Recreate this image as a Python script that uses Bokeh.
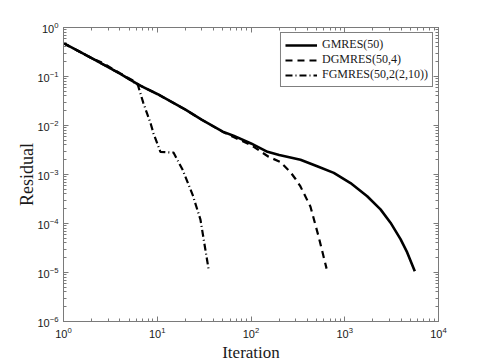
from bokeh.plotting import figure
from bokeh.models import (LogAxis, FixedTicker, CustomJSTickFormatter, Range1d,
                          Legend, LegendItem)
from bokeh.embed import file_html
from bokeh.resources import INLINE

# ---- data ----
gmres_x = [1, 2, 4, 6.5, 10, 20, 30, 50, 65, 100, 150, 200, 337, 508, 764, 1152,
           1735, 2406, 3076, 3935, 4634, 5588]
gmres_y = [0.48, 0.236, 0.115, 0.066, 0.044, 0.021, 0.013, 0.0075, 0.0062, 0.0043, 0.0029,
           0.0025, 0.0020, 0.00147, 0.00108, 6.7e-4,
           3.6e-4, 1.94e-4, 1.04e-4, 4.8e-5, 2.57e-5, 1.06e-5]

dgmres_x = [1, 2, 2.6, 4, 5.5, 6.5, 10, 20, 30, 50, 65, 100, 154, 206, 265, 300, 337, 431, 525, 640]
dgmres_y = [0.48, 0.236, 0.19, 0.117, 0.083, 0.066, 0.044, 0.021, 0.013, 0.0074, 0.0058,
            0.0040, 0.0023, 0.0018, 0.0011, 8e-4, 5.7e-4, 2.2e-4, 5.5e-5, 1.2e-5]

fgmres_x = [1, 2, 4, 6.2, 7.1, 8.5, 9.1, 10.8, 14.9, 18.6, 23.8, 28.9, 35.2]
fgmres_y = [0.48, 0.236, 0.115, 0.068, 0.029, 0.011, 0.007, 0.0029, 0.0028, 0.00126,
            0.00039, 0.00012, 1.2e-5]

series_names = ["GMRES(50)", "DGMRES(50,4)", "FGMRES(50,2(2,10))"]

x_ticks = [1, 10, 100, 1000, 10000]
y_ticks = [1e-6, 1e-5, 1e-4, 1e-3, 1e-2, 1e-1, 1]

x_label = "Iteration"
y_label = "Residual"


def minors(ticks):
    out = []
    for t in ticks[:-1]:
        for k in range(2, 10):
            out.append(t * k)
    return out


AX_COL = "#7a7a7a"
TICK_FONT = "Liberation Sans"
SERIF = "Liberation Serif"

p = figure(width=484, height=364, x_axis_type="log", y_axis_type="log",
           x_range=Range1d(1, 10000), y_range=Range1d(1e-6, 1),
           output_backend="svg", toolbar_location=None,
           min_border_left=63, min_border_right=46, min_border_top=27, min_border_bottom=41)

p.xgrid.visible = False
p.ygrid.visible = False
p.outline_line_color = AX_COL
p.background_fill_color = "white"
p.border_fill_color = "white"

xt = FixedTicker(ticks=x_ticks, minor_ticks=minors(x_ticks))
yt = FixedTicker(ticks=y_ticks, minor_ticks=minors(y_ticks))


def style(ax, labels=True):
    ax.axis_line_color = AX_COL
    ax.major_tick_line_color = AX_COL
    ax.minor_tick_line_color = AX_COL
    ax.major_tick_in = 5
    ax.major_tick_out = 0
    ax.minor_tick_in = 3
    ax.minor_tick_out = 0
    ax.major_label_text_font = TICK_FONT
    ax.major_label_text_font_size = "11px"
    ax.major_label_text_color = "#1a1a1a"
    ax.major_label_standoff = 5
    if not labels:
        ax.formatter = CustomJSTickFormatter(code="return ''")
        ax.major_label_standoff = 0


xa = p.xaxis[0]
xa.ticker = xt
style(xa)
xa.axis_label = x_label
xa.axis_label_text_font = SERIF
xa.axis_label_text_font_style = "normal"
xa.axis_label_text_font_size = "17px"
xa.axis_label_text_color = "#1a1a1a"
xa.axis_label_standoff = 2

ya = p.yaxis[0]
ya.ticker = yt
style(ya)
ya.axis_label = y_label
ya.axis_label_text_font = SERIF
ya.axis_label_text_font_style = "normal"
ya.axis_label_text_font_size = "18px"
ya.axis_label_text_color = "#1a1a1a"
ya.axis_label_standoff = -3

top = LogAxis(ticker=xt)
style(top, labels=False)
p.add_layout(top, "above")
right = LogAxis(ticker=yt)
style(right, labels=False)
p.add_layout(right, "right")

r1 = p.line(gmres_x, gmres_y, line_color="black", line_width=2.6)
r2 = p.line(dgmres_x, dgmres_y, line_color="black", line_width=2.2, line_dash="7 5")
r3 = p.line(fgmres_x, fgmres_y, line_color="black", line_width=2.2, line_dash="7 3 1 3")

legend = Legend(items=[LegendItem(label=series_names[0], renderers=[r1]),
                       LegendItem(label=series_names[1], renderers=[r2]),
                       LegendItem(label=series_names[2], renderers=[r3])],
                location="top_right")
legend.margin = 5
legend.padding = 4
legend.spacing = 0
legend.label_height = 12
legend.glyph_height = 12
legend.glyph_width = 32
legend.label_standoff = 5
legend.label_text_font = SERIF
legend.label_text_font_size = "12px"
legend.label_text_line_height = 1.0
legend.label_text_color = "#1a1a1a"
legend.border_line_color = "black"
legend.border_line_width = 1
legend.background_fill_alpha = 1
p.add_layout(legend, "center")

open("out.html", "w").write(file_html(p, INLINE))
